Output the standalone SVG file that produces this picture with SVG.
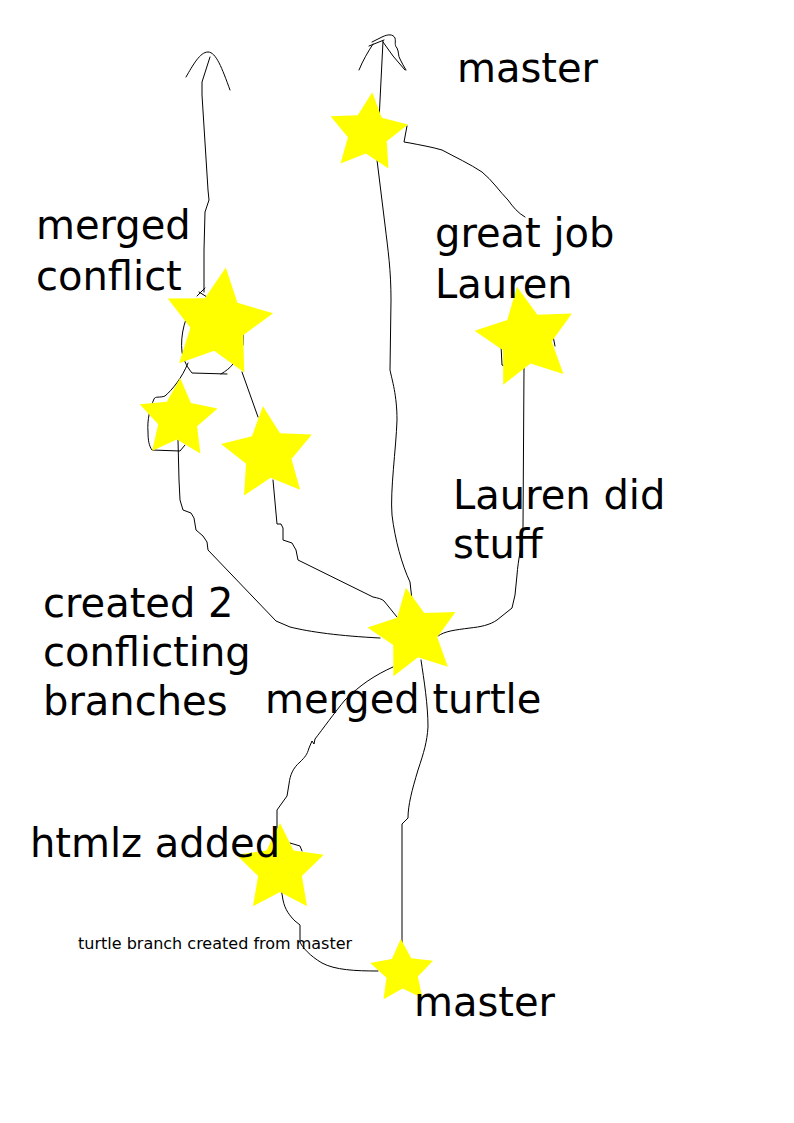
<svg xmlns="http://www.w3.org/2000/svg" xmlns:xlink="http://www.w3.org/1999/xlink" width="794" height="1123" viewBox="0 0 794 1123">
<style>
.ln{fill:none;stroke:#000;stroke-width:1;stroke-linejoin:round;stroke-linecap:round}
.st{fill:#ffff00;stroke:none}
.t{font-family:"DejaVu Sans","Liberation Sans",sans-serif;font-size:40px;fill:#000}
.s{font-family:"DejaVu Sans","Liberation Sans",sans-serif;font-size:16px;fill:#000}
</style>
<defs>
<polygon id="star" class="st" points="0,-10 2.939,-4.045 9.511,-3.09 4.755,1.545 5.878,8.09 0,5 -5.878,8.09 -4.755,1.545 -9.511,-3.09 -2.939,-4.045"/>
</defs>
<rect width="794" height="1123" fill="#fff"/>
<g id="connectors">
<path class="ln" d="M186,77 C193,65 200,52 208,52 C216,52 222,68 230,90"/>
<path class="ln" d="M210,57 L202,82 L202,95 L208,190 L209,200 L205,212 L204,250 L204,292"/>
<path class="ln" d="M197,296 L205,288 M199,292 L207,297"/>
<path class="ln" d="M196,300 C185,315 180,335 182,352 C184,362 188,368 192,373 L227,374 M221,374 C226,371 230,368 233,364 M243,335 L243,345"/>
<path class="ln" d="M242,372 L258,417"/>
<path class="ln" d="M273,480 L277,524 L281,524 L283,528 L283,540 L292,543 L296,550 L298,560 L373,597 C378,598 382,599 384,601 L397,617"/>
<path class="ln" d="M188,363 C182,378 172,390 165,396 C160,398 155,396 154,399 C150,408 147,420 148,432 C148,440 149,446 152,450 L180,451 L185,445"/>
<path class="ln" d="M178,440 L179,480 L180,500 L183,510 L191,513 L194,518 L196,530 L203,536 L207,542 L208,550 L276,621 L290,627 C310,632 340,636 380,638"/>
<path class="ln" d="M359,70 C363,60 368,52 373,44 M369,46 L384,40 M372,42 L382,37 C388,34 393,34 395,38 C396,42 394,45 397,48 C399,52 398,56 400,59 C402,63 404,67 406,70 M383,42 L393,56 L405,70"/>
<path class="ln" d="M383,41 L377,160 L385,225 C388,250 391,270 391,300 L390,370 C392,380 397,395 397,420 C396,450 390,490 392,515 C395,540 402,565 410,582 L412,600"/>
<path class="ln" d="M421,660 C424,680 428,705 428,727 C427,742 424,752 418,770 C412,790 408,805 408,818 L402,824 L402,945"/>
<path class="ln" d="M378,971 C355,971 335,970 322,963 C310,956 302,947 300,942 L300,925 L295,921 C290,916 285,910 283,900 L281,888"/>
<path class="ln" d="M277,830 L277,810 L287,796 L289,784 C290,775 293,768 300,762 C305,757 307,755 309,748 L312,741 L314,744 L315,739 C322,730 335,712 345,700 C360,685 375,675 393,667"/>
<path class="ln" d="M290,843 L300,846 L302,851"/>
<path class="ln" d="M524,368 L523,527 C522,545 518,560 517,575 L515,595 L512,608 L497,620 C490,625 480,627 470,628 C455,630 445,631 438,636"/>
<path class="ln" d="M501,345 L502,365 L507,367 M553,336 L555,346"/>
<path class="ln" d="M407,126 L404,142 L410,143 C420,145 432,147 442,150 C455,157 470,164 482,172 C492,180 500,192 508,200 C513,207 518,213 525,217"/>
</g>
<g id="star-master-top"><use xlink:href="#star" href="#star" transform="translate(368,133) rotate(6) scale(4.1)"/></g>
<g id="star-merged-conflict"><use xlink:href="#star" href="#star" transform="translate(218,323) rotate(8) scale(5.6)"/></g>
<g id="star-conflict-a"><use xlink:href="#star" href="#star" transform="translate(178,419) rotate(3) scale(4.1)"/></g>
<g id="star-conflict-b"><use xlink:href="#star" href="#star" transform="translate(268,454) rotate(-6) scale(4.8)"/></g>
<g id="star-lauren"><use xlink:href="#star" href="#star" transform="translate(526,338) rotate(-10) scale(5.2)"/></g>
<g id="star-merged-turtle"><use xlink:href="#star" href="#star" transform="translate(414,634) rotate(-10) scale(4.7)"/></g>
<g id="star-htmlz"><use xlink:href="#star" href="#star" transform="translate(280,869) scale(4.6)"/></g>
<g id="star-master-bottom"><use xlink:href="#star" href="#star" transform="translate(402,972) rotate(-2) scale(3.3)"/></g>
<g id="labels">
<text class="t" x="457" y="82">master</text>
<text class="t" x="36" y="239">merged</text>
<text class="t" x="36" y="290">conflict</text>
<text class="t" x="435" y="247">great job</text>
<text class="t" x="435" y="298">Lauren</text>
<text class="t" x="453" y="509">Lauren did</text>
<text class="t" x="453" y="558">stuff</text>
<text class="t" x="43" y="617">created 2</text>
<text class="t" x="43" y="666">conflicting</text>
<text class="t" x="43" y="715">branches</text>
<text class="t" x="265" y="713">merged turtle</text>
<text class="t" x="30" y="857">htmlz added</text>
<text class="s" x="78" y="949">turtle branch created from master</text>
<text class="t" x="414" y="1016">master</text>
</g>
</svg>
